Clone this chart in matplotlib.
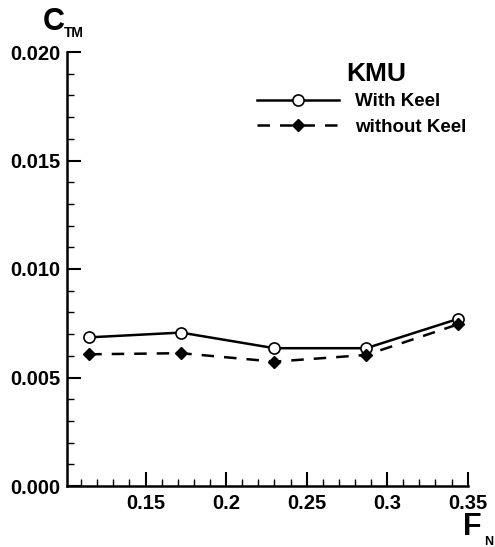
import matplotlib
matplotlib.use("Agg")
import matplotlib.pyplot as plt
from matplotlib.ticker import MultipleLocator, FixedLocator

plt.rcParams['font.family'] = ['Liberation Sans', 'DejaVu Sans']
plt.rcParams['font.weight'] = 'bold'

fn = [0.115, 0.172, 0.230, 0.287, 0.344]
ctm_with_keel = [0.00685, 0.00707, 0.00635, 0.00635, 0.0077]
ctm_without_keel = [0.00607, 0.00612, 0.00573, 0.00604, 0.00745]
x_ticks = [0.15, 0.2, 0.25, 0.3, 0.35]
x_ticklabels = ['0.15', '0.2', '0.25', '0.3', '0.35']
y_ticks = [0.000, 0.005, 0.010, 0.015, 0.020]
y_ticklabels = ['0.000', '0.005', '0.010', '0.015', '0.020']

fig = plt.figure(figsize=(4.95, 5.47), dpi=100)
ax = fig.add_axes([67/495, 1-486/547, (467.7-67)/495, (486-52)/547])

ax.plot(fn, ctm_with_keel, '-', color='black', lw=1.8, marker='o', ms=8,
        mfc='white', mec='black', mew=1.2, label='With Keel')
ax.plot(fn, ctm_without_keel, '--', color='black', lw=1.8, marker='D', ms=6,
        mfc='black', mec='black', dashes=(5, 4), label='without Keel')

ax.set_xlim(0.1012, 0.35)
ax.set_ylim(0.0, 0.020)
ax.xaxis.set_major_locator(FixedLocator(x_ticks))
ax.set_xticklabels(x_ticklabels)
ax.xaxis.set_minor_locator(MultipleLocator(0.01))
ax.yaxis.set_major_locator(FixedLocator(y_ticks))
ax.set_yticklabels(y_ticklabels)
ax.yaxis.set_minor_locator(MultipleLocator(0.001))

for s in ['top', 'right']:
    ax.spines[s].set_visible(False)
for s in ['left', 'bottom']:
    ax.spines[s].set_linewidth(1.8)

ax.tick_params(which='major', direction='in', length=10, width=1.5, labelsize=14.5)
ax.tick_params(axis='x', which='major', pad=6)
ax.tick_params(axis='y', which='major', pad=5)
ax.tick_params(which='minor', direction='in', length=5, width=1.0)
for lab in ax.get_xticklabels() + ax.get_yticklabels():
    lab.set_fontweight('bold')

leg = ax.legend(loc='upper left', bbox_to_anchor=(0.455, 0.922), frameon=False,
                handlelength=4.4, handletextpad=0.85, labelspacing=0.45,
                prop={'weight': 'bold', 'size': 13.5}, borderaxespad=0)
ax.text(0.772, 0.95, 'KMU', transform=ax.transAxes, ha='center', va='center',
        fontsize=19, fontweight='bold')

fig.text(43/495, 1-30/547, 'C', fontsize=22, fontweight='bold', ha='left', va='baseline')
fig.text(64/495, 1-37/547, 'TM', fontsize=10, fontweight='bold', ha='left', va='baseline')
fig.text(463/495, 1-535/547, 'F', fontsize=22, fontweight='bold', ha='left', va='baseline')
fig.text(484/495, 1-545/547, 'N', fontsize=9, fontweight='bold', ha='left', va='baseline')

fig.savefig('out.png', dpi=100)
